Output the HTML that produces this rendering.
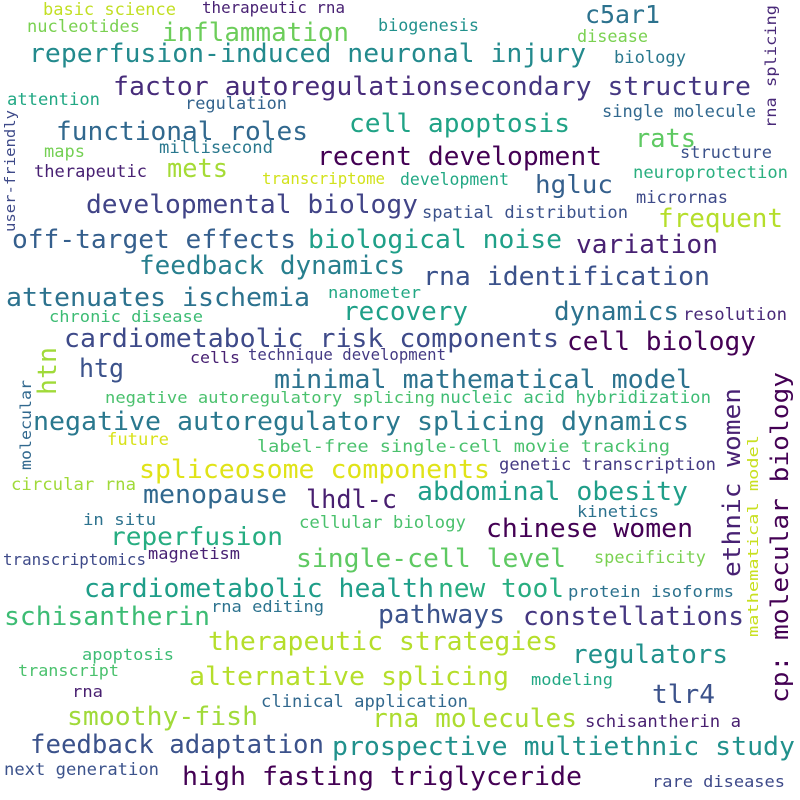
<!DOCTYPE html>
<html><head><meta charset="utf-8"><style>
html,body{margin:0;padding:0;background:#fff;}
svg{display:block;}
text{font-family:"DejaVu Sans Mono","Liberation Mono",monospace;}
</style></head><body>
<svg id="cloud" width="800" height="800" viewBox="0 0 800 800" xmlns="http://www.w3.org/2000/svg">
<rect width="800" height="800" fill="#ffffff"/>
</svg>
<script>
// word, x(left or baseline-x for vertical), y(baseline or bottom for vertical), font size, text length, color, rotated
const words = [
["basic science",43,15,17,133,"#c2df23",0],
["therapeutic rna",202,13,16,143,"#482173",0],
["nucleotides",27,32,17,113,"#7ad151",0],
["biogenesis",378,31,17,101,"#21918c",0],
["c5ar1",585,23,25,75,"#2c728e",0],
["disease",577,42,17,71,"#7ad151",0],
["inflammation",162,41,26,187,"#6ccd5a",0],
["rna splicing",776,128,15,123,"#482878",1],
["biology",614,63,17,72,"#2a788e",0],
["reperfusion-induced neuronal injury",29,62,26,557,"#238a8d",0],
["factor autoregulation",113,95,26,335,"#472c7a",0],
["secondary structure",448,95,26,303,"#453781",0],
["attention",7,105,17,93,"#22a884",0],
["regulation",185,109,17,102,"#33638d",0],
["single molecule",602,117,17,154,"#31688e",0],
["user-friendly",15,232,14,122,"#3e4a89",1],
["functional roles",56,140,26,252,"#31688e",0],
["cell apoptosis",349,132,26,221,"#20a386",0],
["rats",635,147,26,61,"#5ec962",0],
["maps",44,157,17,41,"#75d054",0],
["millisecond",159,153,17,114,"#2a788e",0],
["recent development",317,165,26,285,"#440154",0],
["structure",680,158,17,92,"#3b528b",0],
["therapeutic",34,177,17,113,"#482173",0],
["mets",167,177,26,61,"#a5db36",0],
["transcriptome",262,184,16,123,"#d2e21b",0],
["development",400,185,17,109,"#22a884",0],
["neuroprotection",633,178,17,155,"#29af7f",0],
["hgluc",535,193,25,78,"#35608d",0],
["micrornas",636,203,17,92,"#3e4a89",0],
["developmental biology",86,213,26,332,"#414487",0],
["spatial distribution",422,218,17,206,"#3b528b",0],
["frequent",658,227,26,125,"#b5de2b",0],
["off-target effects",12,248,26,284,"#355f8d",0],
["biological noise",308,248,26,254,"#1fa088",0],
["variation",576,253,26,142,"#482173",0],
["feedback dynamics",139,274,26,266,"#277f8e",0],
["rna identification",423,285,26,287,"#3b528b",0],
["attenuates ischemia",6,306,26,304,"#2c728e",0],
["nanometer",328,298,16,93,"#22a884",0],
["recovery",343,320,26,125,"#1fa088",0],
["dynamics",554,320,26,125,"#2c728e",0],
["resolution",683,320,17,104,"#482878",0],
["chronic disease",49,322,16,154,"#3dbc74",0],
["cardiometabolic risk components",64,347,26,495,"#3e4a89",0],
["cell biology",567,350,26,189,"#440154",0],
["htn",56,395,26,48,"#a0da39",1],
["cells",190,363,16,50,"#482173",0],
["technique development",248,360,16,198,"#443a83",0],
["htg",79,377,26,45,"#3b528b",0],
["minimal mathematical model",274,388,26,418,"#2c728e",0],
["cp: molecular biology",788,703,24,331,"#440154",1],
["ethnic women",740,577,24,189,"#482173",1],
["negative autoregulatory splicing",105,403,16,330,"#4ac16d",0],
["nucleic acid hybridization",440,403,17,271,"#3dbc74",0],
["molecular",31,470,15,90,"#31688e",1],
["negative autoregulatory splicing dynamics",33,430,26,656,"#2a788e",0],
["future",107,445,17,62,"#d8e219",0],
["label-free single-cell movie tracking",257,452,17,413,"#4ac16d",0],
["spliceosome components",139,478,26,351,"#e0e318",0],
["genetic transcription",499,470,17,217,"#443a83",0],
["circular rna",11,490,17,125,"#a0da39",0],
["menopause",143,503,26,144,"#31688e",0],
["lhdl-c",306,508,26,91,"#481f70",0],
["abdominal obesity",417,500,26,271,"#1f9e89",0],
["mathematical model",758,637,14,202,"#c8e020",1],
["kinetics",577,517,16,82,"#2c728e",0],
["in situ",83,525,16,73,"#2c728e",0],
["cellular biology",299,528,17,167,"#4ac16d",0],
["reperfusion",110,545,25,173,"#26ad81",0],
["chinese women",486,537,26,207,"#440154",0],
["magnetism",148,559,16,92,"#482173",0],
["transcriptomics",3,565,16,143,"#3e4a89",0],
["single-cell level",296,567,26,270,"#5ec962",0],
["specificity",594,563,17,112,"#7ad151",0],
["cardiometabolic health",84,597,26,350,"#1f9e89",0],
["new tool",438,597,26,126,"#27ad81",0],
["protein isoforms",568,597,16,166,"#2c728e",0],
["schisantherin",4,625,26,206,"#3dbc74",0],
["rna editing",211,612,16,113,"#2c728e",0],
["pathways",378,623,26,127,"#3b528b",0],
["constellations",523,625,26,221,"#453781",0],
["therapeutic strategies",208,650,26,350,"#b5de2b",0],
["regulators",572,663,26,156,"#21918c",0],
["apoptosis",82,660,16,92,"#3dbc74",0],
["transcript",18,676,16,101,"#4ac16d",0],
["alternative splicing",189,685,26,320,"#b5de2b",0],
["modeling",531,685,16,82,"#22a884",0],
["tlr4",652,703,26,63,"#3b528b",0],
["rna",72,697,16,31,"#481f70",0],
["clinical application",261,707,17,207,"#31688e",0],
["smoothy-fish",67,725,26,191,"#a0da39",0],
["rna molecules",372,727,26,205,"#addc30",0],
["schisantherin a",585,727,17,156,"#481f70",0],
["feedback adaptation",30,753,26,294,"#3b528b",0],
["prospective multiethnic study",332,755,26,463,"#21918c",0],
["next generation",4,775,17,155,"#3b528b",0],
["high fasting triglyceride",182,785,26,400,"#440154",0],
["rare diseases",652,787,16,133,"#3e4a89",0]
];
const svg = document.getElementById('cloud');
const NS = 'http://www.w3.org/2000/svg';
words.forEach(w => {
  const t = document.createElementNS(NS, 'text');
  t.setAttribute('x', w[1]);
  t.setAttribute('y', w[2]);
  t.setAttribute('font-size', w[3]);
  t.setAttribute('textLength', w[4]);
  t.setAttribute('lengthAdjust', 'spacingAndGlyphs');
  t.setAttribute('fill', w[5]);
  if (w[6]) t.setAttribute('transform', 'rotate(-90 ' + w[1] + ' ' + w[2] + ')');
  
  
  t.textContent = w[0];
  svg.appendChild(t);
});
</script>
</body></html>
